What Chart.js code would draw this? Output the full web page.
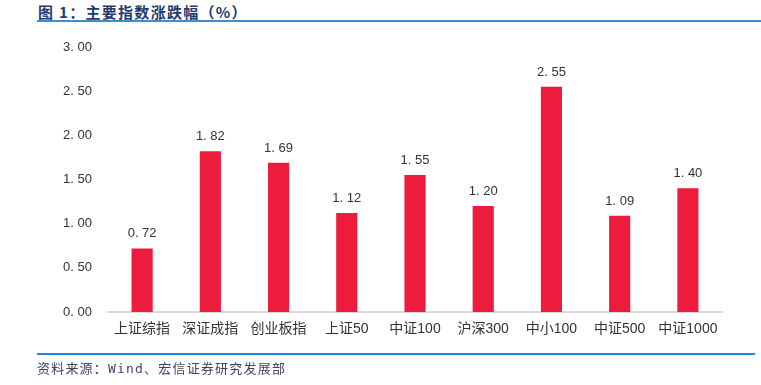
<!DOCTYPE html>
<html>
<head>
<meta charset="utf-8">
<script src="https://cdn.jsdelivr.net/npm/chart.js@4"></script>
<style>
  body { margin: 0; background: #fff; }
  #wrap { position: relative; width: 761px; height: 385px; overflow: hidden; }
  #title { position: absolute; left: 38px; top: 1px; font: bold 15px "Noto Sans CJK SC", sans-serif; color: #1f3a6e; letter-spacing: 1.3px; }
  #topline { position: absolute; left: 37px; top: 20px; width: 724px; height: 2px; background: #3b8fd0; }
  #botline { position: absolute; left: 37px; top: 353px; width: 718px; height: 2px; background: #1e88d4; }
  #source { position: absolute; left: 37px; top: 358px; font: 13px "DejaVu Sans Mono", "Noto Sans CJK SC", monospace; color: #3a4566; letter-spacing: 1.2px; }
  canvas { position: absolute; left: 0; top: 0; }
</style>
</head>
<body>
<div id="wrap">
  <div id="title">图 1：主要指数涨跌幅（%）</div>
  <div id="topline"></div>
  <canvas id="chart" width="761" height="385"></canvas>
  <div id="botline"></div>
  <div id="source">资料来源：Wind、宏信证券研究发展部</div>
</div>
<script>
// categories and values
const categories = ["上证综指", "深证成指", "创业板指", "上证50", "中证100", "沪深300", "中小100", "中证500", "中证1000"];
const changes = [0.72, 1.82, 1.69, 1.12, 1.55, 1.20, 2.55, 1.09, 1.40];
const yTicks = [0, 0.5, 1, 1.5, 2, 2.5, 3];

function fmt(v) {
    // the original font leaves a gap after the point
    return v.toFixed(2).replace(".", ". ");
}

// value labels on top of each bar
const valueLabels = {
    id: "valueLabels",
    afterDatasetsDraw(chart) {
        const ctx = chart.ctx;
        const meta = chart.getDatasetMeta(0);
        ctx.save();
        ctx.font = "13px 'Liberation Sans', sans-serif";
        ctx.fillStyle = "#333";
        ctx.textAlign = "center";
        ctx.textBaseline = "bottom";
        meta.data.forEach((bar, i) => {
            ctx.fillText(fmt(changes[i]), bar.x, bar.y - 8);
        });
        ctx.restore();
    }
};

new Chart(document.getElementById("chart").getContext("2d"), {
    type: "bar",
    data: {
        labels: categories,
        datasets: [{
            data: changes,
            backgroundColor: "#ed1c3c",
            categoryPercentage: 1,
            barPercentage: 0.31
        }]
    },
    options: {
        responsive: false,
        animation: false,
        layout: { padding: { top: 47, right: 39, left: 0, bottom: 0 } },
        plugins: { legend: { display: false }, tooltip: { enabled: false } },
        scales: {
            x: {
                grid: { display: false, drawTicks: false },
                border: { color: "#d9d9d9", width: 2 },
                ticks: {
                    color: "#333",
                    padding: 9,
                    maxRotation: 0,
                    font: { size: 14, family: "'Liberation Sans', 'Noto Sans CJK SC', sans-serif" }
                },
                afterFit(scale) { scale.height = 73; }
            },
            y: {
                min: 0,
                max: 3,
                afterBuildTicks(scale) { scale.ticks = yTicks.map(v => ({ value: v })); },
                grid: { display: false, drawTicks: false },
                border: { display: false },
                ticks: {
                    color: "#333",
                    padding: 16,
                    font: { size: 13, family: "'Liberation Sans', sans-serif" },
                    callback: v => fmt(v)
                },
                afterFit(scale) { scale.width = 108; }
            }
        }
    },
    plugins: [valueLabels]
});
</script>
</body>
</html>
